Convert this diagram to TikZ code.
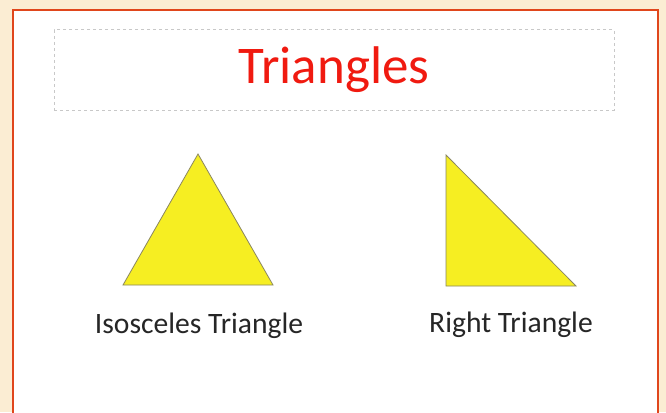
\documentclass[tikz,border=0pt]{standalone}
\usepackage{fontspec}
\setmainfont{Carlito}
\usetikzlibrary{positioning}
\definecolor{slidebg}{HTML}{FBEDD3}
\definecolor{slideframe}{HTML}{E0461C}
\definecolor{titlered}{HTML}{F01A10}
\definecolor{titlerule}{HTML}{C8C8C8}
\definecolor{shapefill}{HTML}{F6EE22}
\definecolor{shapeedge}{HTML}{8A8660}
\definecolor{labelink}{HTML}{262626}

\begin{document}
\begin{tikzpicture}[x=1pt, y=-1pt,
  shapetri/.style={fill=shapefill, draw=shapeedge, line width=0.8pt, line join=miter},
  tlabel/.style={font=\fontsize{29.6}{32}\selectfont, text=labelink, inner sep=0pt},
  titlebox/.style={draw=titlerule, dashed, dash pattern=on 3pt off 3pt, line width=1pt,
    minimum width=560pt, minimum height=80pt, inner sep=0pt,
    font=\fontsize{53}{56}\selectfont, text=titlered}]
  \useasboundingbox (0,0) rectangle (666,412);
  \fill[slidebg] (0,0) rectangle (666,412);
  \draw[slideframe, fill=white, line width=2pt] (13,420) -- (13,10) -- (658,10) -- (658,420);
  \node[titlebox] (title) at (334,70) {Triangles};
  % isosceles
  \coordinate (ia) at (198,154);
  \coordinate (il) at (123,285);
  \coordinate (ir) at (273,285);
  \draw[shapetri] (ia) -- (il) -- (ir) -- cycle;
  % right angle
  \coordinate (ra) at (446,155);
  \coordinate (rl) at (446,286);
  \coordinate (rr) at (576,286);
  \draw[shapetri] (ra) -- (rl) -- (rr) -- cycle;
  \node[tlabel, anchor=base] (isolabel) at (199,333) {Isosceles Triangle};
  \node[tlabel, anchor=base] (rightlabel) at (511,332) {Right Triangle};
\end{tikzpicture}
\end{document}
